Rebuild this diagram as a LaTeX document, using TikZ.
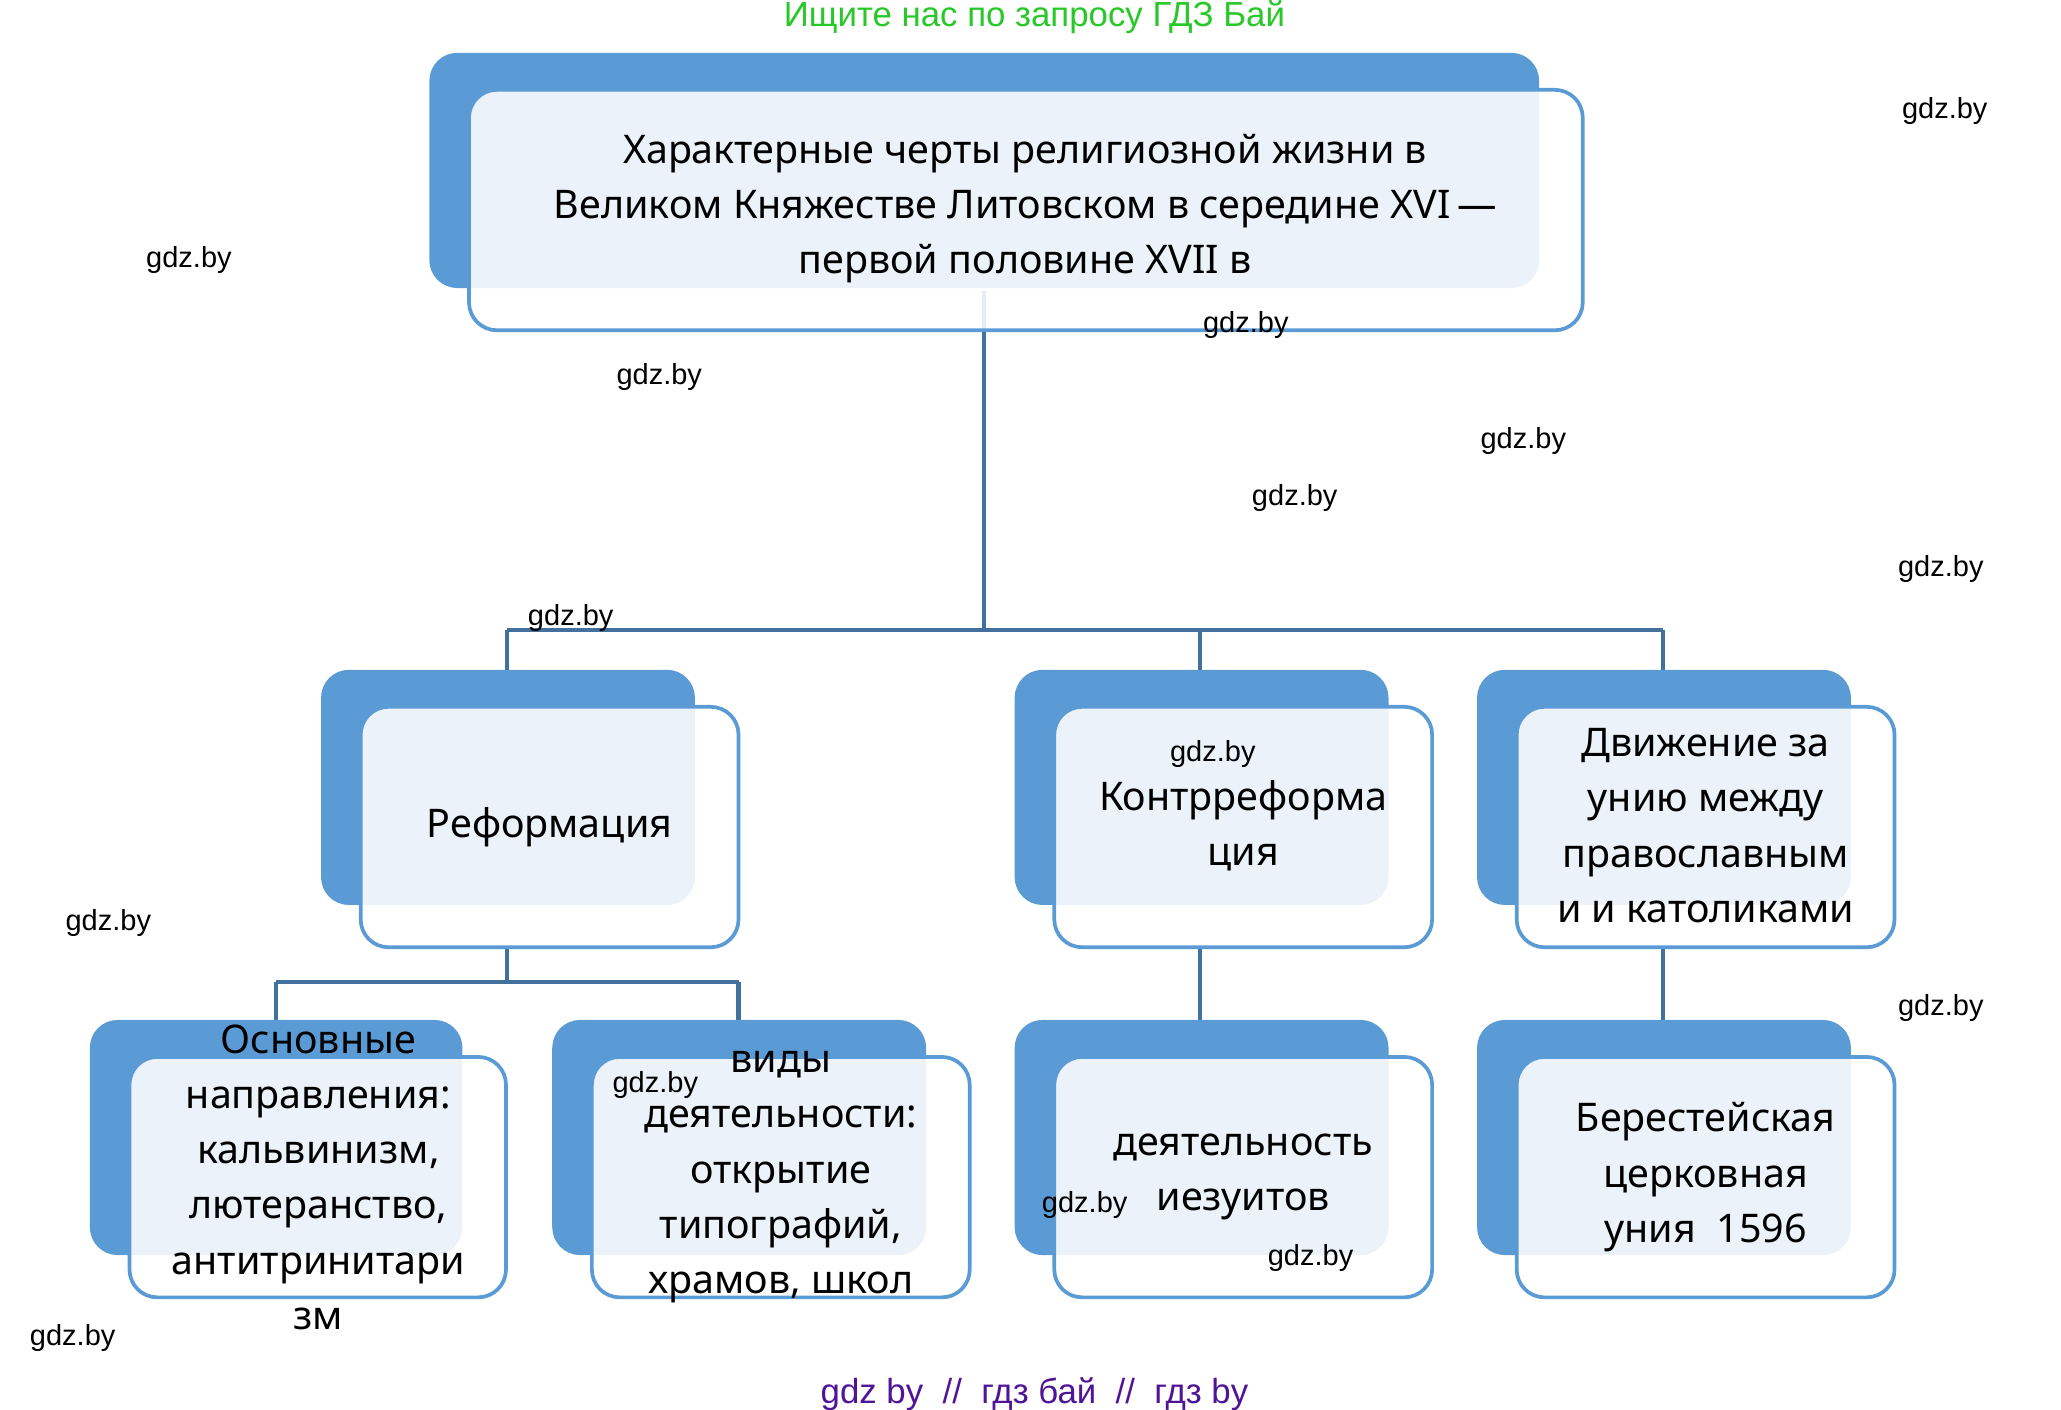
\documentclass[tikz,border=0pt]{standalone}
\usepackage{fontspec}
\setmainfont{Noto Sans}
\newfontfamily\wm{Liberation Sans}
\definecolor{bk}{HTML}{5B9BD5}
\definecolor{ln}{HTML}{41719C}
\tikzset{
 backbox/.style={fill=bk,draw=none,rounded corners=12pt},
 frontbox/.style={draw=bk,line width=1.6pt,fill=white,fill opacity=0.88,rounded corners=12pt},
 txt/.style={align=center,font=\fontsize{17}{23.8}\selectfont,text=black},
 conn/.style={draw=ln,line width=1.8pt},
 wmk/.style={font=\wm\fontsize{12.5}{14}\selectfont,text=black}
}
\begin{document}
\begin{tikzpicture}[x=0.02cm,y=-0.02cm]
\useasboundingbox (0,0) rectangle (1560,1067);
% connectors
\coordinate (t0) at (745,220);
\coordinate (t1) at (745,477);
\coordinate (jL) at (384,477);
\coordinate (jM) at (908,477);
\coordinate (jR) at (1259,477);
\coordinate (r0) at (384,717);
\coordinate (r1) at (384,743);
\coordinate (rL) at (209,743);
\coordinate (rR) at (559,743);
\draw[conn] (t0)--(t1) (jL)--(jR);
\draw[conn] (jL)--(384,507) (jM)--(908,507) (jR)--(1259,507);
\draw[conn] (r0)--(r1) (rL)--(rR) (rL)--(209,772) (rR)--(559,772);
\draw[conn] (908,717)--(908,772) (1259,717)--(1259,772);
% boxes
\newcommand{\bx}[5]{%
 \fill[backbox] (#1,#2) rectangle ++(#3,#4);
 \draw[frontbox] (#1+30,#2+28) rectangle ++(#3+3,#4+4);}
\bx{325}{40}{840}{178}{}
\bx{243}{507}{283}{178}{}
\bx{768}{507}{283}{178}{}
\bx{1118}{507}{283}{178}{}
\bx{68}{772}{282}{178}{}
\bx{418}{772}{283}{178}{}
\bx{768}{772}{283}{178}{}
\bx{1118}{772}{283}{178}{}
% texts
\node[txt] (top) at (776,158) {Характерные черты религиозной жизни в\\Великом Княжестве Литовском в середине XVI\,—\\первой половине XVII в};
\node[txt] (ref) at (416,626) {Реформация};
\node[txt] (kon) at (941,625) {Контрреформа\\ция};
\node[txt] (dv) at (1291,625) {Движение за\\унию между\\православным\\и и католиками};
\node[txt] (osn) at (241,891) {Основные\\направления:\\кальвинизм,\\лютеранство,\\антитринитари\\зм};
\node[txt] (vid) at (591,891) {виды\\деятельности:\\открытие\\типографий,\\храмов, школ};
\node[txt] (ies) at (941,891) {деятельность\\иезуитов};
\node[txt] (ber) at (1291,891) {Берестейская\\церковная\\уния\ \ 1596};
% header/footer
\node[font=\wm\fontsize{15}{18}\selectfont,text={rgb,255:red,40;green,200;blue,40}] (hd) at (783,13) {Ищите нас по запросу ГДЗ Бай};
\node[font=\wm\fontsize{15}{18}\selectfont,text={rgb,255:red,80;green,20;blue,150}] (ft) at (783,1055) {gdz by\ \ //\ \ гдз бай\ \ //\ \ гдз by};
% watermarks
\foreach \p [count=\i] in {(1472,84),(143,197),(943,246),(499,285),(1153,334),(980,377),(1469,431),(432,468),(82,699),(918,571),(1469,763),(496,821),(821,912),(992,952),(55,1013)}
 \node[wmk] (w\i) at \p {gdz.by};
\end{tikzpicture}
\end{document}
